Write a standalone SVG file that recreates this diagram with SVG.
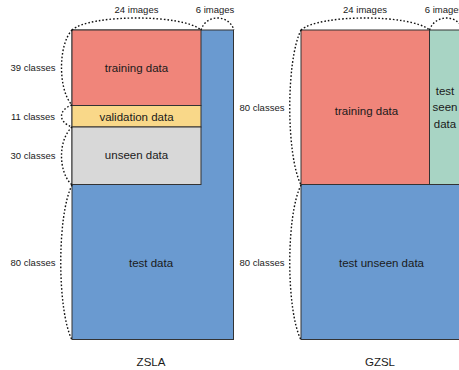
<svg xmlns="http://www.w3.org/2000/svg" width="459" height="370" viewBox="0 0 459 370">
<style>
text{font-family:"Liberation Sans",Arial,sans-serif;fill:#1a1a1a;text-anchor:middle}
.lbl{font-size:9.5px}
.in{font-size:11.5px}
.cap{font-size:11.5px}
.box{stroke:#333;stroke-width:1}
.brace{fill:none;stroke:#111;stroke-width:1.4;stroke-dasharray:1.6 2}
</style>
<rect width="459" height="370" fill="#fff"/>
<g id="zsla">
  <g id="zsla-test"><rect class="box" x="72" y="30" width="161.5" height="309.5" fill="#6A9AD0"/><text class="in" x="151" y="267">test data</text></g>
  <g id="zsla-train"><rect class="box" x="72" y="30" width="129" height="75.5" fill="#F0857A"/><text class="in" x="136.5" y="72">training data</text></g>
  <g id="zsla-val"><rect class="box" x="72" y="105.5" width="129" height="21.5" fill="#F9D889"/><text class="in" x="136.5" y="121">validation data</text></g>
  <g id="zsla-unseen"><rect class="box" x="72" y="127" width="129" height="57.5" fill="#D8D8D8"/><text class="in" x="136.5" y="159">unseen data</text></g>
  <text class="lbl" x="136.5" y="13">24 images</text>
  <text class="lbl" x="215" y="13">6 images</text>
  <text class="lbl" x="33" y="71">39 classes</text>
  <text class="lbl" x="33" y="120">11 classes</text>
  <text class="lbl" x="33" y="158.5">30 classes</text>
  <text class="lbl" x="33" y="266">80 classes</text>
  <text class="cap" x="151" y="366">ZSLA</text>
</g>
<g id="gzsl">
  <g id="gzsl-test-unseen"><rect class="box" x="301" y="184.5" width="165" height="155" fill="#6A9AD0"/><text class="in" x="381.5" y="267">test unseen data</text></g>
  <g id="gzsl-train"><rect class="box" x="301" y="30" width="128.5" height="154.5" fill="#F0857A"/><text class="in" x="366.5" y="115">training data</text></g>
  <g id="gzsl-test-seen"><rect class="box" x="429.5" y="30" width="40" height="154.5" fill="#A8D4C4"/><text class="in" x="445" y="94.5">test</text><text class="in" x="445" y="111">seen</text><text class="in" x="445" y="127.5">data</text></g>
  <text class="lbl" x="365" y="13">24 images</text>
  <text class="lbl" x="444" y="13">6 images</text>
  <text class="lbl" x="262" y="110.5">80 classes</text>
  <text class="lbl" x="262" y="266">80 classes</text>
  <text class="cap" x="380" y="366">GZSL</text>
</g>
<g id="connectors">
  <path class="brace" d="M72,30 C90,14 183,14 201,30"/>
  <path class="brace" d="M201,30 C206,14 229,14 234,30"/>
  <path class="brace" d="M72,30 C58,45 58,90 72,105"/>
  <path class="brace" d="M72,105 C58,110 58,122 72,127"/>
  <path class="brace" d="M72,127 C58,140 58,172 72,185"/>
  <path class="brace" d="M72,185 C57,215 57,310 72,340"/>
  <path class="brace" d="M301,30 C319,14 411,14 429.5,30"/>
  <path class="brace" d="M429.5,30 C435,14 458,14 463,30"/>
  <path class="brace" d="M301,30 C286,60 286,155 301,185"/>
  <path class="brace" d="M301,185 C286,215 286,310 301,340"/>
</g>
</svg>
